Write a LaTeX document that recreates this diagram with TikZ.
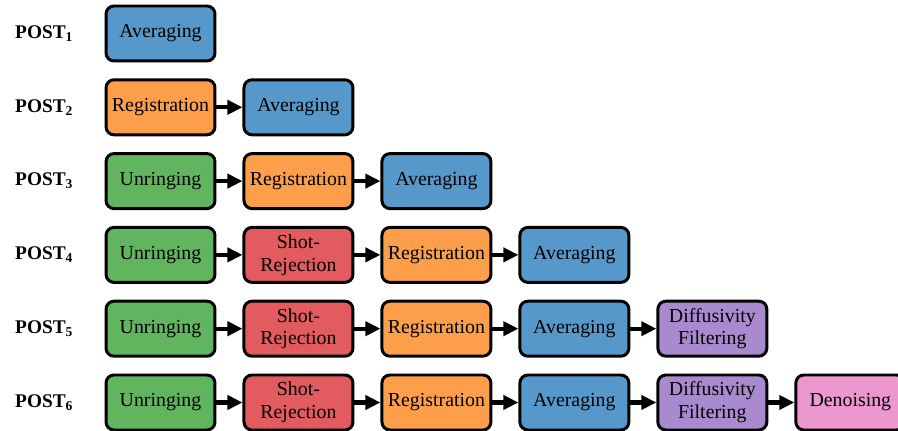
\documentclass[tikz,border=0pt]{standalone}
\usepackage{fontspec}
\setmainfont{Liberation Serif}
\usetikzlibrary{arrows.meta,positioning}

\definecolor{blu}{HTML}{5698C9}
\definecolor{arancio}{HTML}{FD9E4A}
\definecolor{verde}{HTML}{61B55E}
\definecolor{rosso}{HTML}{E15B5F}
\definecolor{viola}{HTML}{AA8ACF}
\definecolor{rosa}{HTML}{EC97CE}

\begin{document}
\begin{tikzpicture}[x=0.02cm,y=-0.02cm,
                % Stile dei blocchi arrotondati
                blocco/.style={
                    draw,
                    rectangle,
                    rounded corners=0.16cm,
                    minimum width=2.18cm,
                    minimum height=1.1cm,
                    line width=1.7pt,
                    inner sep=1pt,
                    align=center,
                    font=\fontsize{11.3}{13}\selectfont
                },
                % Stile per le frecce con la punta piena
                freccia/.style={
                    -{Triangle[length=0.3cm, width=0.28cm]},
                    line width=2.4pt
                },
                % Stile delle etichette a sinistra
                etichetta/.style={
                    anchor=west,
                    font=\bfseries\fontsize{11}{13}\selectfont
                },
                node distance=0.52cm
            ]

                % area visibile
                \useasboundingbox (0,0) rectangle (898,431);

                % 1. POST_1
                \node [etichetta] (post1) at (9,33.5) {POST\textsubscript{1}};
                \node [blocco, fill=blu] (avg1) at (160.5,33.5) {Averaging};

                % 2. POST_2
                \node [etichetta] (post2) at (9,107.3) {POST\textsubscript{2}};
                \node [blocco, fill=arancio] (reg2) at (160.5,107.3) {Registration};
                \node [blocco, fill=blu, right=of reg2] (avg2) {Averaging};
                \draw [freccia] (reg2.east) -- (avg2.west);

                % 3. POST_3
                \node [etichetta] (post3) at (9,181.1) {POST\textsubscript{3}};
                \node [blocco, fill=verde] (unr3) at (160.5,181.1) {Unringing};
                \node [blocco, fill=arancio, right=of unr3] (reg3) {Registration};
                \node [blocco, fill=blu, right=of reg3] (avg3) {Averaging};
                \draw [freccia] (unr3.east) -- (reg3.west);
                \draw [freccia] (reg3.east) -- (avg3.west);

                % 4. POST_4
                \node [etichetta] (post4) at (9,254.9) {POST\textsubscript{4}};
                \node [blocco, fill=verde] (unr4) at (160.5,254.9) {Unringing};
                \node [blocco, fill=rosso, right=of unr4] (shot4) {Shot-\\Rejection};
                \node [blocco, fill=arancio, right=of shot4] (reg4) {Registration};
                \node [blocco, fill=blu, right=of reg4] (avg4) {Averaging};
                \draw [freccia] (unr4.east) -- (shot4.west);
                \draw [freccia] (shot4.east) -- (reg4.west);
                \draw [freccia] (reg4.east) -- (avg4.west);

                % 5. POST_5
                \node [etichetta] (post5) at (9,328.7) {POST\textsubscript{5}};
                \node [blocco, fill=verde] (unr5) at (160.5,328.7) {Unringing};
                \node [blocco, fill=rosso, right=of unr5] (shot5) {Shot-\\Rejection};
                \node [blocco, fill=arancio, right=of shot5] (reg5) {Registration};
                \node [blocco, fill=blu, right=of reg5] (avg5) {Averaging};
                \node [blocco, fill=viola, right=of avg5] (diff5) {Diffusivity\\Filtering};
                \draw [freccia] (unr5.east) -- (shot5.west);
                \draw [freccia] (shot5.east) -- (reg5.west);
                \draw [freccia] (reg5.east) -- (avg5.west);
                \draw [freccia] (avg5.east) -- (diff5.west);

                % 6. POST_6
                \node [etichetta] (post6) at (9,402.5) {POST\textsubscript{6}};
                \node [blocco, fill=verde] (unr6) at (160.5,402.5) {Unringing};
                \node [blocco, fill=rosso, right=of unr6] (shot6) {Shot-\\Rejection};
                \node [blocco, fill=arancio, right=of shot6] (reg6) {Registration};
                \node [blocco, fill=blu, right=of reg6] (avg6) {Averaging};
                \node [blocco, fill=viola, right=of avg6] (diff6) {Diffusivity\\Filtering};
                \node [blocco, fill=rosa, right=of diff6] (den6) {Denoising};
                \draw [freccia] (unr6.east) -- (shot6.west);
                \draw [freccia] (shot6.east) -- (reg6.west);
                \draw [freccia] (reg6.east) -- (avg6.west);
                \draw [freccia] (avg6.east) -- (diff6.west);
                \draw [freccia] (diff6.east) -- (den6.west);

            \end{tikzpicture}
\end{document}
